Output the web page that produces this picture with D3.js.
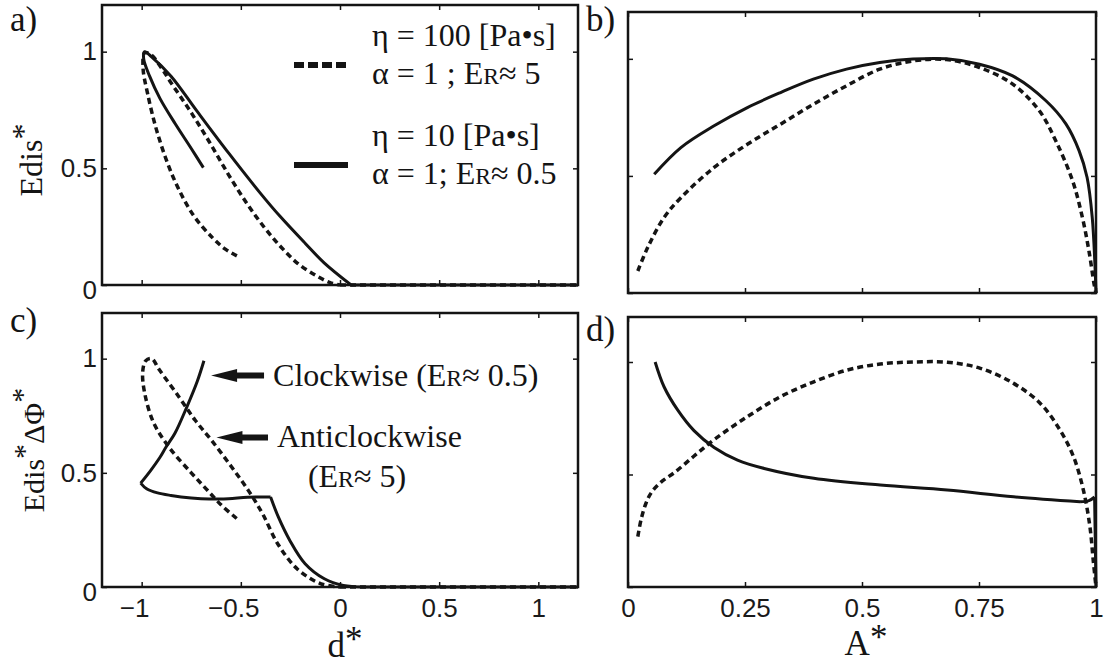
<!DOCTYPE html>
<html lang="en">
<head>
<meta charset="UTF-8">
<title>Edis</title>
<script src="https://cdn.jsdelivr.net/npm/d3@7"></script>
<style>
    body { margin: 0; background: #fff; }
    svg text { fill: #141414; }
    .serif { font-family: "Liberation Serif", "Times New Roman", serif; }
    .tick text { font-family: "Liberation Sans", Arial, sans-serif; font-size: 26px; fill: #1a1a1a; }
    .tick line { stroke: #141414; stroke-width: 1.5px; }
    .frame { fill: none; stroke: #141414; stroke-width: 2.5px; }
    .curve { fill: none; stroke: #141414; stroke-width: 3px; stroke-linejoin: round; stroke-linecap: butt; }
    .dash { stroke-dasharray: 6, 4; stroke-width: 3.5px; }
</style>
</head>
<body>
<svg width="1104" height="666"></svg>
<script>
// tick values
var dTicks = [-1, -0.5, 0, 0.5, 1];
var aTicks = [0, 0.25, 0.5, 0.75, 1];
var eTicks = [0, 0.5, 1];

// a) Edis* against d*   [d*, Edis*]
var a_eta100 = [[-0.52,0.125],[-0.58,0.155],[-0.64,0.2],[-0.74,0.3],[-0.84,0.46],[-0.92,0.65],[-0.97,0.82],
    [-0.993,0.93],[-0.985,0.995],[-0.95,0.985],[-0.9,0.93],[-0.852,0.867],[-0.755,0.745],[-0.66,0.615],[-0.56,0.47],
    [-0.466,0.345],[-0.38,0.245],[-0.3,0.165],[-0.214,0.093],[-0.12,0.04],[-0.05,0.01],[0,0],[1.2,0]];
var a_eta100_corners = [21];
var a_eta10 = [[-0.689,0.503],[-0.75,0.585],[-0.83,0.69],[-0.908,0.8],[-0.96,0.895],[-0.99,0.97],[-0.985,1.0],
    [-0.95,0.978],[-0.852,0.895],[-0.721,0.745],[-0.562,0.566],[-0.403,0.395],[-0.3,0.292],[-0.176,0.179],
    [-0.08,0.095],[0.056,0],[1.2,0]];
var a_eta10_corners = [15];

// b) Edis* against A*   [A*, Edis*]
var b_eta10 = [[0.056,0.507],[0.113,0.621],[0.184,0.714],[0.255,0.792],[0.326,0.856],[0.396,0.913],[0.467,0.956],
    [0.538,0.984],[0.609,0.999],[0.68,1.0],[0.751,0.977],[0.822,0.927],[0.893,0.821],[0.936,0.721],[0.964,0.607],
    [0.981,0.493],[0.992,0.322],[0.998,0.108],[1.0,0]];
var b_eta100 = [[0.021,0.094],[0.042,0.194],[0.077,0.322],[0.113,0.407],[0.184,0.536],[0.255,0.635],[0.326,0.721],
    [0.396,0.806],[0.467,0.885],[0.538,0.956],[0.609,0.991],[0.68,0.997],[0.751,0.963],[0.822,0.892],[0.879,0.778],
    [0.914,0.65],[0.95,0.479],[0.971,0.322],[0.985,0.179],[0.996,0.037],[1.0,0]];

// c) Edis* dPhi* against d*
var c_eta10 = [[-0.686,0.991],[-0.72,0.9],[-0.773,0.787],[-0.833,0.672],[-0.877,0.613],[-0.91,0.565],[-0.955,0.51],
    [-1.005,0.455],[-0.975,0.43],[-0.92,0.412],[-0.852,0.401],[-0.75,0.39],[-0.659,0.385],[-0.562,0.387],
    [-0.466,0.393],[-0.35,0.394],[-0.311,0.307],[-0.253,0.204],[-0.176,0.102],[-0.079,0.036],[0.017,0.007],
    [0.12,0],[1.2,0]];
var c_eta10_corners = [7, 15, 21];
var c_eta100 = [[-0.521,0.3],[-0.6,0.36],[-0.675,0.43],[-0.75,0.5],[-0.86,0.61],[-0.94,0.72],[-0.985,0.85],
    [-0.995,0.94],[-0.98,0.99],[-0.95,1.0],[-0.91,0.95],[-0.81,0.83],[-0.73,0.73],[-0.65,0.645],[-0.55,0.53],
    [-0.46,0.42],[-0.39,0.32],[-0.311,0.185],[-0.214,0.078],[-0.099,0.015],[0,0],[1.2,0]];
var c_eta100_corners = [20];

// d) Edis* dPhi* against A*
var d_eta10 = [[0.058,1.0],[0.077,0.89],[0.106,0.787],[0.141,0.695],[0.184,0.62],[0.234,0.564],[0.291,0.527],
    [0.397,0.483],[0.539,0.453],[0.682,0.431],[0.824,0.401],[0.966,0.379],[0.985,0.384],[0.997,0.4],[1.0,0]];
var d_eta10_corners = [11, 13];
var d_eta100 = [[0.021,0.224],[0.028,0.3],[0.038,0.37],[0.05,0.42],[0.07,0.465],[0.1,0.51],[0.14,0.58],[0.184,0.655],
    [0.255,0.757],[0.326,0.846],[0.397,0.912],[0.468,0.964],[0.539,0.991],[0.611,1.0],[0.682,0.999],[0.753,0.972],
    [0.824,0.905],[0.881,0.816],[0.923,0.698],[0.952,0.579],[0.973,0.431],[0.987,0.268],[0.994,0.12],[1.0,0]];

// arrows in c)  tip / tail in data units
var cNotes = [
    {tip: [-0.65, 0.926], tail: [-0.383, 0.926], lines: [["Clockwise (E", "R", "≈ 0.5)"]]},
    {tip: [-0.623, 0.655], tail: [-0.363, 0.655], lines: [["Anticlockwise", "", ""], ["(E", "R", "≈ 5)"]]}
];

var svg = d3.select("svg");

function panel(box, xDomain, xTicks, xLabels, yLabels) {
    var x = d3.scaleLinear().domain(xDomain).range([box.left, box.right]);
    var y = d3.scaleLinear().domain([0, 1.2]).range([box.bottom, box.top]);
    var g = svg.append("g");
    var fmt = function (v) { return Math.abs(v) + ""; };

    var bottom = g.append("g").attr("transform", "translate(0," + box.bottom + ")")
        .call(d3.axisBottom(x).tickValues(xTicks).tickSizeInner(-5).tickSizeOuter(0).tickPadding(12)
            .tickFormat(xLabels ? fmt : ""));
    g.append("g").attr("transform", "translate(0," + box.top + ")")
        .call(d3.axisTop(x).tickValues(xTicks).tickSizeInner(-5).tickSizeOuter(0).tickFormat(""));
    var left = g.append("g").attr("transform", "translate(" + box.left + ",0)")
        .call(d3.axisLeft(y).tickValues(eTicks).tickSizeInner(-5).tickSizeOuter(0).tickPadding(5)
            .tickFormat(yLabels ? d3.format("") : ""));
    g.append("g").attr("transform", "translate(" + box.right + ",0)")
        .call(d3.axisRight(y).tickValues(eTicks).tickSizeInner(-5).tickSizeOuter(0).tickFormat(""));
    g.selectAll(".domain").remove();
    // the 0 label sits a little under the corner
    left.selectAll(".tick text").filter(function (v) { return v === 0; }).attr("dy", "0.5em");

    // minus sign hangs left of the number, like the original
    bottom.selectAll(".tick").each(function (v) {
        if (v < 0 && xLabels) {
            var t = d3.select(this).select("text");
            var w = t.node().getComputedTextLength();
            d3.select(this).append("text").attr("x", -w / 2).attr("y", t.attr("y")).attr("dy", "0.71em")
                .attr("text-anchor", "end").attr("fill", "#1a1a1a").text("−");
        }
    });

    g.append("rect").attr("class", "frame")
        .attr("x", box.left).attr("y", box.top)
        .attr("width", box.right - box.left).attr("height", box.bottom - box.top);

    var line = d3.line().x(function (d) { return x(d[0]); }).y(function (d) { return y(d[1]); })
        .curve(d3.curveCatmullRom.alpha(0.5));
    return {g: g, x: x, y: y, line: line};
}

// cut a series at its sharp corners so the smoothing does not round them
function pieces(data, corners) {
    var out = [], start = 0;
    (corners || []).forEach(function (c) {
        out.push(data.slice(start, c + 1));
        start = c;
    });
    out.push(data.slice(start));
    return out;
}

function drawCurve(p, data, corners, dashed) {
    var d = pieces(data, corners).map(function (s) { return p.line(s); }).join("");
    p.g.append("path").attr("class", dashed ? "curve dash" : "curve").attr("d", d);
}

// text with the small-cap R of "ER"
function erText(t, parts, size) {
    t.append("tspan").text(parts[0]);
    if (parts[1]) {
        t.append("tspan").attr("font-size", size * 0.74).text(parts[1]);
        t.append("tspan").text(parts[2]);
    }
}

var pa = panel({left: 102, right: 578, top: 5, bottom: 285}, [-1.2, 1.2], dTicks, false, true);
var pb = panel({left: 628, right: 1096, top: 12, bottom: 293}, [0, 1], aTicks, false, false);
var pc = panel({left: 102, right: 578, top: 313, bottom: 587}, [-1.2, 1.2], dTicks, true, true);
var pd = panel({left: 628, right: 1096, top: 317, bottom: 587}, [0, 1], aTicks, true, false);

drawCurve(pa, a_eta100, a_eta100_corners, true);
drawCurve(pa, a_eta10, a_eta10_corners, false);
drawCurve(pb, b_eta100, [], true);
drawCurve(pb, b_eta10, [], false);
drawCurve(pc, c_eta100, c_eta100_corners, true);
drawCurve(pc, c_eta10, c_eta10_corners, false);
drawCurve(pd, d_eta100, [], true);
drawCurve(pd, d_eta10, d_eta10_corners, false);

// legend in a)
var legend = [
    {dash: true, y: 65, l1: ["η = 100 [Pa•s]"], l2: ["α = 1 ; E", "R", "≈ 5"]},
    {dash: false, y: 165, l1: ["η = 10 [Pa•s]"], l2: ["α = 1; E", "R", "≈ 0.5"]}
];
legend.forEach(function (it) {
    svg.append("line").attr("x1", 294).attr("x2", 348).attr("y1", it.y).attr("y2", it.y)
        .attr("stroke", "#141414").attr("stroke-width", 6)
        .attr("stroke-dasharray", it.dash ? "10,4" : null);
    var t1 = svg.append("text").attr("class", "serif").attr("font-size", 32)
        .attr("x", 372).attr("y", it.y - 19);
    erText(t1, it.l1, 32);
    var t2 = svg.append("text").attr("class", "serif").attr("font-size", 32)
        .attr("x", 372).attr("y", it.y + 19);
    erText(t2, it.l2, 32);
});

// arrows + notes in c)
cNotes.forEach(function (n) {
    var tx = pc.x(n.tip[0]), ty = pc.y(n.tip[1]), bx = pc.x(n.tail[0]);
    var hl = 26, hh = 6.5, sh = 3;
    var pts = [[tx, ty], [tx + hl, ty - hh], [tx + hl, ty - sh], [bx, ty - sh], [bx, ty + sh], [tx + hl, ty + sh], [tx + hl, ty + hh]];
    svg.append("path").attr("d", "M" + pts.join("L") + "Z").attr("fill", "#141414");
    n.lines.forEach(function (parts, i) {
        var t = svg.append("text").attr("class", "serif").attr("font-size", 32)
            .attr("y", ty + 10 + i * 40);
        if (i === 0) t.attr("x", bx + 9);
        else t.attr("x", bx + 89).attr("text-anchor", "middle");
        erText(t, parts, 32);
    });
});

// panel letters
[["a)", 10, 31], ["b)", 586, 31], ["c)", 10, 332], ["d)", 586, 341]].forEach(function (p) {
    svg.append("text").attr("class", "serif").attr("font-size", 35)
        .attr("x", p[1]).attr("y", p[2]).text(p[0]);
});

// axis titles
var xd = svg.append("text").attr("class", "serif").attr("font-size", 35).attr("text-anchor", "middle")
    .attr("x", 345).attr("y", 657);
xd.append("tspan").text("d");
xd.append("tspan").attr("dy", -6).text("*");
var xa = svg.append("text").attr("class", "serif").attr("font-size", 35).attr("text-anchor", "middle")
    .attr("x", 866).attr("y", 655);
xa.append("tspan").text("A");
xa.append("tspan").attr("dy", -6).text("*");

var ya = svg.append("text").attr("class", "serif").attr("font-size", 32).attr("text-anchor", "middle")
    .attr("transform", "translate(42,160) rotate(-90)");
ya.append("tspan").text("Edis");
ya.append("tspan").attr("dy", -8).text("*");

var yc = svg.append("text").attr("class", "serif").attr("font-size", 30).attr("text-anchor", "middle")
    .attr("transform", "translate(44,450) rotate(-90)");
yc.append("tspan").text("Edis");
yc.append("tspan").attr("dy", -10).text("*");
yc.append("tspan").attr("dy", 10).text("ΔΦ");
yc.append("tspan").attr("dy", -12).text("*");
</script>
</body>
</html>
